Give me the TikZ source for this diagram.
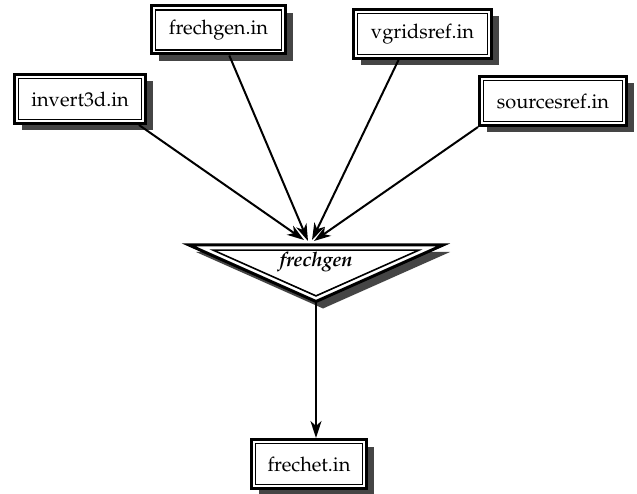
\documentclass[tikz,border=0pt]{standalone}
\IfFileExists{mathpazo.sty}
  {\usepackage[T1]{fontenc}\usepackage{mathpazo}}
  {\usepackage{fontspec}\setmainfont{Liberation Serif}}
\usetikzlibrary{arrows.meta,shadows,calc}
\definecolor{shadowgray}{gray}{0.27}
\begin{document}
\begin{tikzpicture}[x=1pt,y=-1pt,
  labelfont/.style={font=\fontsize{20}{24}\selectfont},
  filebox/.style={draw, line width=3pt, fill=white, inner sep=0pt, labelfont,
    drop shadow={shadow xshift=7pt, shadow yshift=-7pt, opacity=1, fill=shadowgray}},
  innerline/.style={line width=1.6pt},
  feed/.style={line width=2pt, -{Stealth[length=17pt,width=11pt,inset=5pt]}}]
\useasboundingbox (0,0) rectangle (637,494);

% input and output files
\node[filebox, minimum width=131pt, minimum height=49pt] (inv)  at (80,99)    {invert3d.in};
\node[filebox, minimum width=134pt, minimum height=48pt] (fgin) at (218.5,30) {frechgen.in};
\node[filebox, minimum width=138pt, minimum height=49pt] (vg)   at (422.5,34) {vgridsref.in};
\node[filebox, minimum width=147pt, minimum height=49pt] (sr)   at (553,101)  {sourcesref.in};
\node[filebox, minimum width=115pt, minimum height=49pt] (fr)   at (309,464)  {frechet.in};
\foreach \n in {inv,fgin,vg,sr,fr}
  \draw[innerline] ($(\n.north west)+(5.6pt,-5.6pt)$) rectangle ($(\n.south east)+(-5.6pt,5.6pt)$);

% the program: a downward triangle with a double border
\coordinate (tl) at (189,245);
\coordinate (tr) at (443,245);
\coordinate (ap) at (316,301.5);
\coordinate (inc) at (316,271.98);
\fill[shadowgray] ([shift={(7pt,-7pt)}]tl) -- ([shift={(7pt,-7pt)}]tr) -- ([shift={(7pt,-7pt)}]ap) -- cycle;
\draw[line width=3pt, fill=white, line join=miter] (tl) -- (tr) -- (ap) -- cycle;
\draw[innerline, line join=miter] ($(inc)!0.81!(tl)$) -- ($(inc)!0.81!(tr)$) -- ($(inc)!0.81!(ap)$) -- cycle;
\node[font=\fontsize{20}{24}\selectfont\bfseries\itshape] (fgen) at (316,262) {frechgen};

% data flow
\coordinate (h1) at (304,240);
\coordinate (h2) at (308,241);
\coordinate (h3) at (312,240);
\coordinate (h4) at (314,241);
\draw[feed] ([xshift=-8pt]inv.south east) -- (h1);
\draw[feed] (fgin) -- (h2);
\draw[feed] ([xshift=-24pt]vg.south) -- (h3);
\draw[feed] (sr.south west) -- (h4);
\draw[feed] (ap) -- (ap |- fr.north);
\end{tikzpicture}
\end{document}
